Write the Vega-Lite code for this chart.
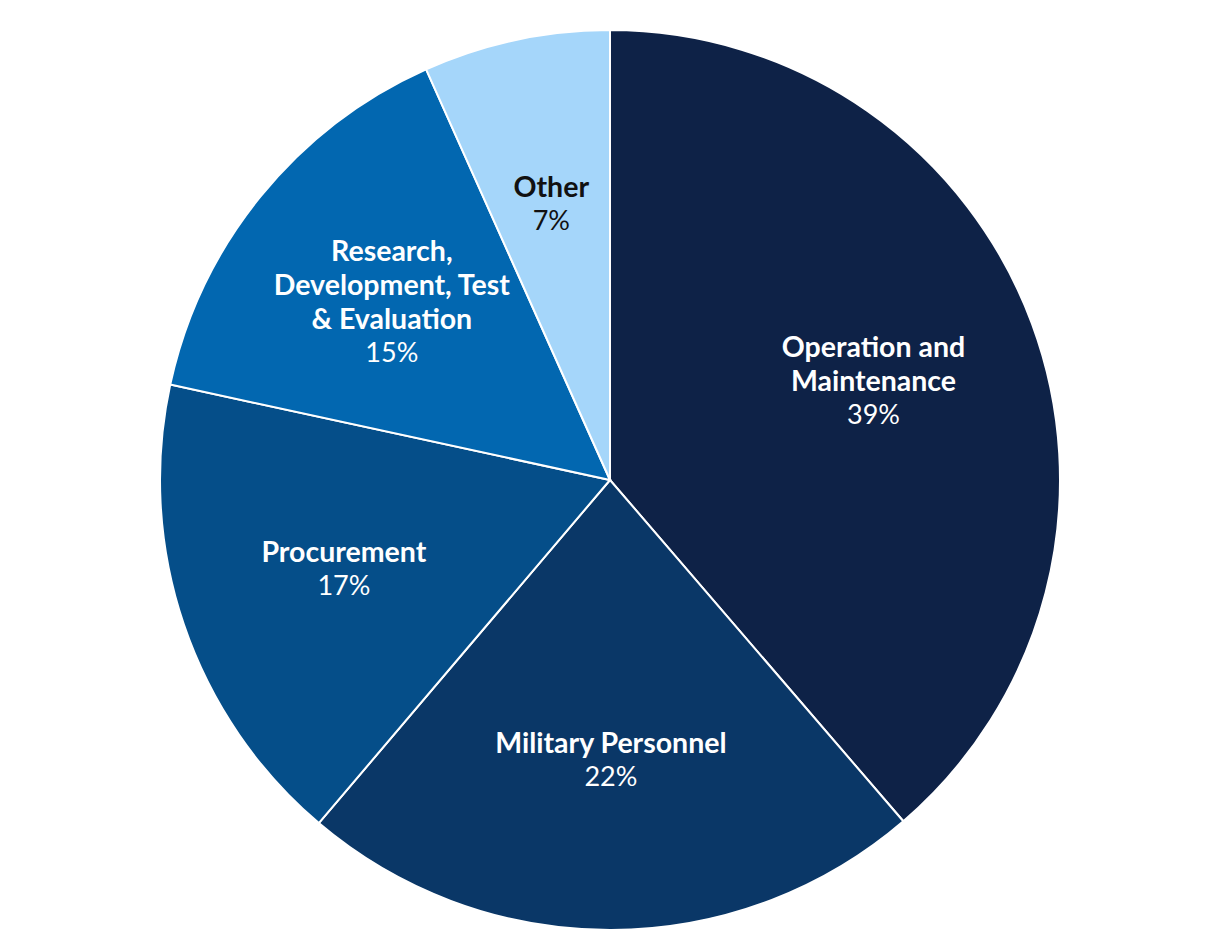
{
  "$schema": "https://vega.github.io/schema/vega-lite/v6.json",
  "width": 900,
  "height": 900,
  "autosize": {"type": "none"},
  "padding": {"left": 160, "top": 30, "right": 160, "bottom": 10},
  "background": "white",
  "view": {"stroke": null},
  "data": {
    "values": [
      {"cat": "Operation and Maintenance", "value": 38.7, "order": 1, "name": "Operation and\nMaintenance", "pct": "39%"},
      {"cat": "Military Personnel", "value": 22.5, "order": 2, "name": "Military Personnel", "pct": "22%"},
      {"cat": "Procurement", "value": 17.2, "order": 3, "name": "Procurement", "pct": "17%"},
      {"cat": "Research, Development, Test & Evaluation", "value": 14.9, "order": 4, "name": "Research,\nDevelopment, Test\n& Evaluation", "pct": "15%"},
      {"cat": "Other", "value": 6.7, "order": 5, "name": "Other", "pct": "7%"}
    ]
  },
  "encoding": {
    "theta": {"field": "value", "type": "quantitative", "stack": true},
    "order": {"field": "order", "type": "quantitative"}
  },
  "layer": [
    {
      "mark": {"type": "arc", "outerRadius": 450, "stroke": "white", "strokeWidth": 2},
      "encoding": {
        "color": {
          "field": "cat",
          "type": "nominal",
          "scale": {
            "domain": ["Operation and Maintenance", "Military Personnel", "Procurement", "Research, Development, Test & Evaluation", "Other"],
            "range": ["#0e2247", "#0a3767", "#054e89", "#0267b0", "#a5d6fa"]
          },
          "legend": null
        }
      }
    },
    {
      "mark": {"type": "text", "radius": 281, "dy": -17, "font": "Lato", "fontSize": 28.5, "fontWeight": "bold", "lineBreak": "\n", "lineHeight": 34, "baseline": "middle", "align": "center"},
      "encoding": {
        "text": {"condition": {"test": "length(split(datum.name, '\\n')) === 1", "field": "name", "type": "nominal"}, "value": ""},
        "color": {"condition": {"test": "datum.cat === 'Other'", "value": "#111111"}, "value": "white"}
      }
    },
    {
      "mark": {"type": "text", "radius": 281, "dy": -34, "font": "Lato", "fontSize": 28.5, "fontWeight": "bold", "lineBreak": "\n", "lineHeight": 34, "baseline": "middle", "align": "center"},
      "encoding": {
        "text": {"condition": {"test": "length(split(datum.name, '\\n')) === 2", "field": "name", "type": "nominal"}, "value": ""},
        "color": {"value": "white"}
      }
    },
    {
      "mark": {"type": "text", "radius": 281, "dy": -51, "font": "Lato", "fontSize": 28.5, "fontWeight": "bold", "lineBreak": "\n", "lineHeight": 34, "baseline": "middle", "align": "center"},
      "encoding": {
        "text": {"condition": {"test": "length(split(datum.name, '\\n')) === 3", "field": "name", "type": "nominal"}, "value": ""},
        "color": {"value": "white"}
      }
    },
    {
      "mark": {"type": "text", "radius": 281, "dy": 17, "font": "Lato", "fontSize": 27, "fontWeight": "normal", "baseline": "middle", "align": "center"},
      "encoding": {
        "text": {"condition": {"test": "length(split(datum.name, '\\n')) === 1", "field": "pct", "type": "nominal"}, "value": ""},
        "color": {"condition": {"test": "datum.cat === 'Other'", "value": "#111111"}, "value": "white"}
      }
    },
    {
      "mark": {"type": "text", "radius": 281, "dy": 34, "font": "Lato", "fontSize": 27, "fontWeight": "normal", "baseline": "middle", "align": "center"},
      "encoding": {
        "text": {"condition": {"test": "length(split(datum.name, '\\n')) === 2", "field": "pct", "type": "nominal"}, "value": ""},
        "color": {"value": "white"}
      }
    },
    {
      "mark": {"type": "text", "radius": 281, "dy": 51, "font": "Lato", "fontSize": 27, "fontWeight": "normal", "baseline": "middle", "align": "center"},
      "encoding": {
        "text": {"condition": {"test": "length(split(datum.name, '\\n')) === 3", "field": "pct", "type": "nominal"}, "value": ""},
        "color": {"value": "white"}
      }
    }
  ]
}
